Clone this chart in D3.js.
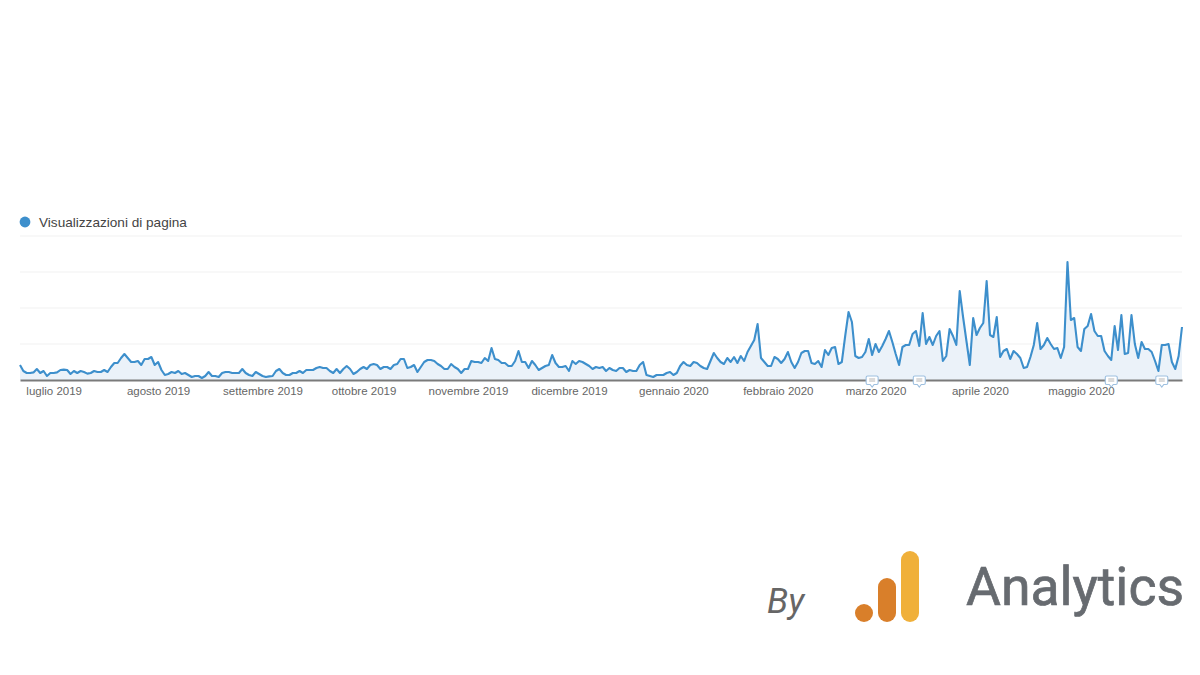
<!DOCTYPE html>
<html><head><meta charset="utf-8">
<script src="https://cdn.jsdelivr.net/npm/d3@7/dist/d3.min.js"></script>
<style>html,body{margin:0;background:#fff}svg{display:block}</style></head>
<body><svg id="c" width="1200" height="675"></svg>
<script>
const seriesName = "Visualizzazioni di pagina";
const startDate = "2019-06-21";
const endDate = "2020-05-31";
const viewsA = [75,45,35,35,38,55,35,45,20,35,35,38,50,52,50,30,45,35,45,40,32,35,45,40,40,50,40,65,85,85,110,130,110,90,90,95,75,105,105,115,75,90,50,25,30,40,35,45,30,35,25,15,20,20,10,20,40,20,20,15,35,40,40,35,35,35,55,35,25,20,40,30,20,15,18,20,45,55,35,25,25,35,35,45];
const viewsB = [35,50,50,50,60,65,60,60,45,35,55,35,55,70,55,30,40,55,65,55,75,80,75,55,65,65,55,75,80,105,105,60,65,75,40,65,90,100,100,95,80,70,55,55,80,65,55,35,55,55,95,90,90,85,110,95,160,105,100,85,85,70,70,95,145,90,90,60,95,75,50,60,70,75,125,85,65,65,70,45,95,80,95,90,80,70,55,65,60];
const viewsC = [65,45,60,50,45,60,60,40,50,45,45,75,90,25,20,15,25,25,25,35,40,25,35,70,90,75,70,90,85,70,60,55,95,135,110,90,80,110,90,115,85,120,95,140,170,200,280,110,90,70,70,115,105,85,105,140,90,60,90,135,145,145,85,80,95,65,150,125,160,165,80,90,220,340,290,120,110,115,140,205,125,180,140,170,205,245,190,130];
const viewsD = [75,165,175,175,230,245,170,335,180,215,175,220,245,95,120,255,220,175,445,315,195,75,310,225,260,285,495,225,215,315,115,145,155,105,145,130,110,60,65,115,175,285,155,175,210,180,155,160,110,165,590,300,310,165,145,255,270,330,245,220,220,145,120,100,270,150,325,130,135,325,180,110,190,155,155,140,95,45,175,175,180,90,55,120,265];
const views = [...viewsA, ...viewsB, ...viewsC, ...viewsD];
const gridTicks = [0,180,360,540,720];
const monthTicks = ["2019-07-01","2019-08-01","2019-09-01","2019-10-01","2019-11-01","2019-12-01","2020-01-01","2020-02-01","2020-03-01","2020-04-01","2020-05-01"];
const monthLabels = ["luglio 2019","agosto 2019","settembre 2019","ottobre 2019","novembre 2019","dicembre 2019","gennaio 2020","febbraio 2020","marzo 2020","aprile 2020","maggio 2020"];
const noteDates = ["2020-02-29","2020-03-14","2020-05-10","2020-05-25"];

const svg = d3.select("#c");
const parse = d3.utcParse("%Y-%m-%d");
const x = d3.scaleUtc().domain([parse(startDate), parse(endDate)]).range([20,1182]);
const y = d3.scaleLinear().domain([0,720]).range([380,236]);
const data = views.map((v,i)=>({d:d3.utcDay.offset(parse(startDate),i),v}));

svg.append("g").selectAll("line").data(gridTicks.slice(1)).join("line")
  .attr("x1",20).attr("x2",1182).attr("y1",d=>y(d)).attr("y2",d=>y(d))
  .attr("stroke","#f1f1f1").attr("stroke-width",1);

svg.append("path").datum(data).attr("fill","#ebf2f9")
  .attr("d",d3.area().x(d=>x(d.d)).y0(y(0)).y1(d=>y(d.v)));
svg.append("path").datum(data).attr("fill","none").attr("stroke","#3d8fcc").attr("stroke-width",2.1).attr("stroke-linejoin","round")
  .attr("d",d3.line().x(d=>x(d.d)).y(d=>y(d.v)));

const labelByDate = new Map(monthTicks.map((t,i)=>[+parse(t),monthLabels[i]]));
const axis = d3.axisBottom(x).tickValues(monthTicks.map(parse)).tickSize(0).tickPadding(7)
  .tickFormat(d=>labelByDate.get(+d));
const ag = svg.append("g").attr("transform",`translate(0,${y(0)})`).call(axis);
ag.select(".domain").attr("stroke","#7a7a7a").attr("stroke-width",2);
ag.selectAll("text").attr("font-family","'Liberation Sans',Arial,sans-serif").attr("font-size",11.5).attr("fill","#666");

const notes = svg.append("g").selectAll("g").data(noteDates).join("g")
  .attr("transform",d=>`translate(${x(parse(d))},380)`);
notes.append("path").attr("d","M-4.5,-4 h9 a1.5,1.5 0 0 1 1.5,1.5 v5.5 a1.5,1.5 0 0 1 -1.5,1.5 h-2.5 l-2,2.5 l-2,-2.5 h-2.5 a1.5,1.5 0 0 1 -1.5,-1.5 v-5.5 a1.5,1.5 0 0 1 1.5,-1.5 z")
  .attr("fill","#fff").attr("stroke","#9dbfdf").attr("stroke-width",1.1);
notes.append("path").attr("d","M-3,-1 h6 M-3,1 h6").attr("stroke","#9a9a9a").attr("stroke-width",0.7);

svg.append("circle").attr("cx",25).attr("cy",222).attr("r",5.4).attr("fill","#3d8fcc");
svg.append("text").attr("x",39).attr("y",227).text(seriesName)
  .attr("font-family","'Liberation Sans',Arial,sans-serif").attr("font-size",13.6).attr("fill","#444");

svg.append("text").attr("x",767).attr("y",613).text("By")
  .attr("font-family","Roboto").attr("font-style","italic").attr("font-size",35).attr("fill","#666");
svg.append("circle").attr("cx",864).attr("cy",613).attr("r",9).attr("fill","#d97f2a");
svg.append("rect").attr("x",878).attr("y",578).attr("width",18).attr("height",44).attr("rx",9).attr("fill","#d97f2a");
svg.append("rect").attr("x",901).attr("y",551).attr("width",18).attr("height",71).attr("rx",9).attr("fill","#f0b03a");
svg.append("text").attr("x",966).attr("y",605).text("Analytics")
  .attr("font-family","Roboto").attr("font-size",53.5).attr("fill","#676b70").attr("stroke","#676b70").attr("stroke-width",0.7);
</script></body></html>
